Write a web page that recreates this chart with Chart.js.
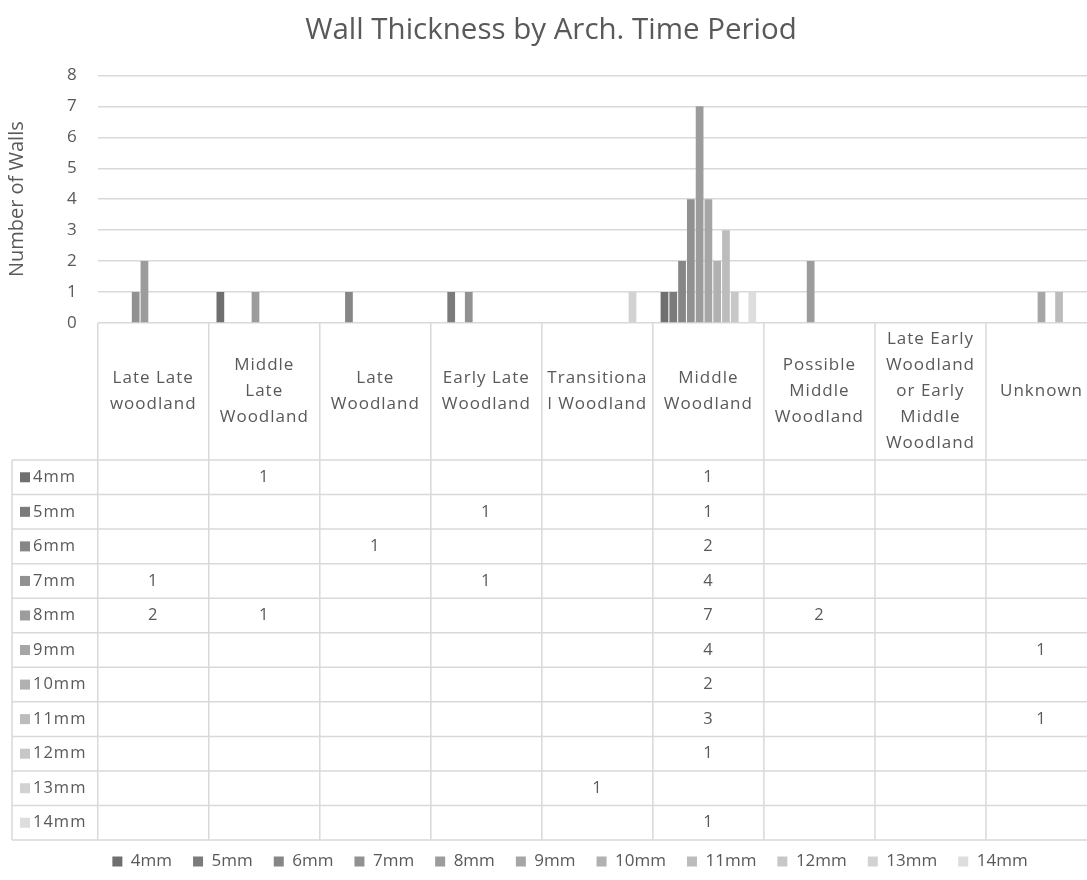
<!DOCTYPE html>
<html>
<head>
<meta charset="utf-8">
<title>Wall Thickness by Arch. Time Period</title>
<script src="https://cdn.jsdelivr.net/npm/chart.js@4.4.0/dist/chart.umd.min.js"></script>
<style>
  html, body { margin: 0; padding: 0; background: #fff; overflow: hidden; }
  #wrap { width: 1100px; height: 880px; }
</style>
</head>
<body>
<div id="wrap"><canvas id="myChart" width="1100" height="880"></canvas></div>
<script>
// time periods (header row of the data table, already wrapped like the original)
const periods = [
  ["Late Late", "woodland"],
  ["Middle", "Late", "Woodland"],
  ["Late", "Woodland"],
  ["Early Late", "Woodland"],
  ["Transitiona", "l Woodland"],
  ["Middle", "Woodland"],
  ["Possible", "Middle", "Woodland"],
  ["Late Early", "Woodland", "or Early", "Middle", "Woodland"],
  ["Unknown"]
];

const thicknesses = ["4mm", "5mm", "6mm", "7mm", "8mm", "9mm", "10mm", "11mm", "12mm", "13mm", "14mm"];

// number of walls per period, one array per thickness (null = empty cell)
const mm4  = [null, 1, null, null, null, 1, null, null, null];
const mm5  = [null, null, null, 1, null, 1, null, null, null];
const mm6  = [null, null, 1, null, null, 2, null, null, null];
const mm7  = [1, null, null, 1, null, 4, null, null, null];
const mm8  = [2, 1, null, null, null, 7, 2, null, null];
const mm9  = [null, null, null, null, null, 4, null, null, 1];
const mm10 = [null, null, null, null, null, 2, null, null, null];
const mm11 = [null, null, null, null, null, 3, null, null, 1];
const mm12 = [null, null, null, null, null, 1, null, null, null];
const mm13 = [null, null, null, null, 1, null, null, null, null];
const mm14 = [null, null, null, null, null, 1, null, null, null];

const yTicks = [0, 1, 2, 3, 4, 5, 6, 7, 8];

const seriesValues = [mm4, mm5, mm6, mm7, mm8, mm9, mm10, mm11, mm12, mm13, mm14];
const greys = ["#6f6f6f", "#7b7b7b", "#868686", "#919191", "#9c9c9c", "#a6a6a6",
               "#b1b1b1", "#bcbcbc", "#c7c7c7", "#d2d2d2", "#dddddd"];

const textColor = "#595959";
const lineColor = "#d9d9d9";
const fontFamily = "'Open Sans', sans-serif";

// table geometry
const HEAD_H = 137;
const ROW_H = 34.55;
const LABEL_LEFT = 12;

Chart.defaults.font.family = fontFamily;
Chart.defaults.color = textColor;

// draws the data table under the plot, lined up with the category scale
const dataTable = {
  id: 'dataTable',
  afterLayout(chart) {
    // the original legend sits a little right of centre
    chart.legend.left += 19;
    chart.legend.right += 19;
  },
  afterDraw(chart) {
    const ctx = chart.ctx;
    const area = chart.chartArea;
    const xs = chart.scales.x;
    const colW = xs.width / periods.length;
    const top = area.bottom;
    const headBottom = top + HEAD_H;
    const tableBottom = headBottom + ROW_H * thicknesses.length;

    ctx.save();
    ctx.strokeStyle = lineColor;
    ctx.lineWidth = 1.5;
    ctx.beginPath();
    for (let i = 0; i <= periods.length; i++) {
      const xx = area.left + i * colW;
      ctx.moveTo(xx, top);
      ctx.lineTo(xx, tableBottom);
    }
    ctx.moveTo(LABEL_LEFT, headBottom);
    ctx.lineTo(LABEL_LEFT, tableBottom);
    for (let r = 0; r <= thicknesses.length; r++) {
      const yy = headBottom + r * ROW_H;
      ctx.moveTo(LABEL_LEFT, yy);
      ctx.lineTo(area.right, yy);
    }
    ctx.stroke();

    ctx.fillStyle = textColor;
    ctx.textAlign = 'center';
    ctx.textBaseline = 'middle';
    ctx.letterSpacing = '1px';

    // header labels, centred vertically in the header cell
    ctx.font = "17px " + fontFamily;
    const lh = 26;
    periods.forEach((lines, i) => {
      const cx = xs.getPixelForValue(i);
      const startY = top + HEAD_H / 2 - (lines.length - 1) * lh / 2;
      lines.forEach((t, k) => ctx.fillText(t, cx, startY + k * lh));
    });

    // row labels with colour keys and cell values
    ctx.font = "16.5px " + fontFamily;
    thicknesses.forEach((name, r) => {
      const cy = headBottom + r * ROW_H + ROW_H / 2;
      ctx.fillStyle = greys[r];
      ctx.fillRect(LABEL_LEFT + 8, cy - 5, 10, 10);
      ctx.fillStyle = textColor;
      ctx.textAlign = 'left';
      ctx.fillText(name, LABEL_LEFT + 21, cy);
      ctx.textAlign = 'center';
      seriesValues[r].forEach((v, i) => {
        if (v !== null) ctx.fillText(String(v), xs.getPixelForValue(i), cy);
      });
    });
    ctx.restore();
  }
};

let myChart = document.getElementById("myChart").getContext('2d');

let chart = new Chart(myChart, {
  type: 'bar',
  data: {
    labels: periods.map(p => p.join(' ')),
    datasets: thicknesses.map((name, i) => ({
      label: name,
      data: seriesValues[i],
      backgroundColor: greys[i],
      borderWidth: 0,
      categoryPercentage: 0.87,
      barPercentage: 0.88
    }))
  },
  options: {
    responsive: false,
    animation: false,
    layout: { padding: { left: 5, right: 3, top: 0, bottom: 0 } },
    plugins: {
      title: {
        display: true,
        text: "Wall Thickness by Arch. Time Period",
        font: { size: 29.5, weight: 'normal' },
        color: textColor,
        padding: { top: 13, bottom: 27 }
      },
      legend: {
        display: true,
        position: 'bottom',
        labels: {
          boxWidth: 10,
          boxHeight: 10,
          padding: 21,
          font: { size: 17 },
          color: textColor
        }
      },
      tooltip: { enabled: false }
    },
    scales: {
      x: {
        grid: { display: false },
        border: { display: false },
        ticks: { display: false },
        afterFit(scale) { scale.height = 509; }
      },
      y: {
        min: yTicks[0],
        max: yTicks[yTicks.length - 1],
        afterBuildTicks(scale) { scale.ticks = yTicks.map(v => ({ value: v })); },
        grid: { color: lineColor, lineWidth: 1.5, drawTicks: false },
        border: { display: false },
        ticks: { font: { size: 17 }, color: textColor, padding: 21 },
        title: {
          display: true,
          text: "Number of Walls",
          font: { size: 20 },
          color: textColor,
          padding: { top: 0, bottom: 17 }
        }
      }
    }
  },
  plugins: [dataTable]
});
</script>
</body>
</html>
